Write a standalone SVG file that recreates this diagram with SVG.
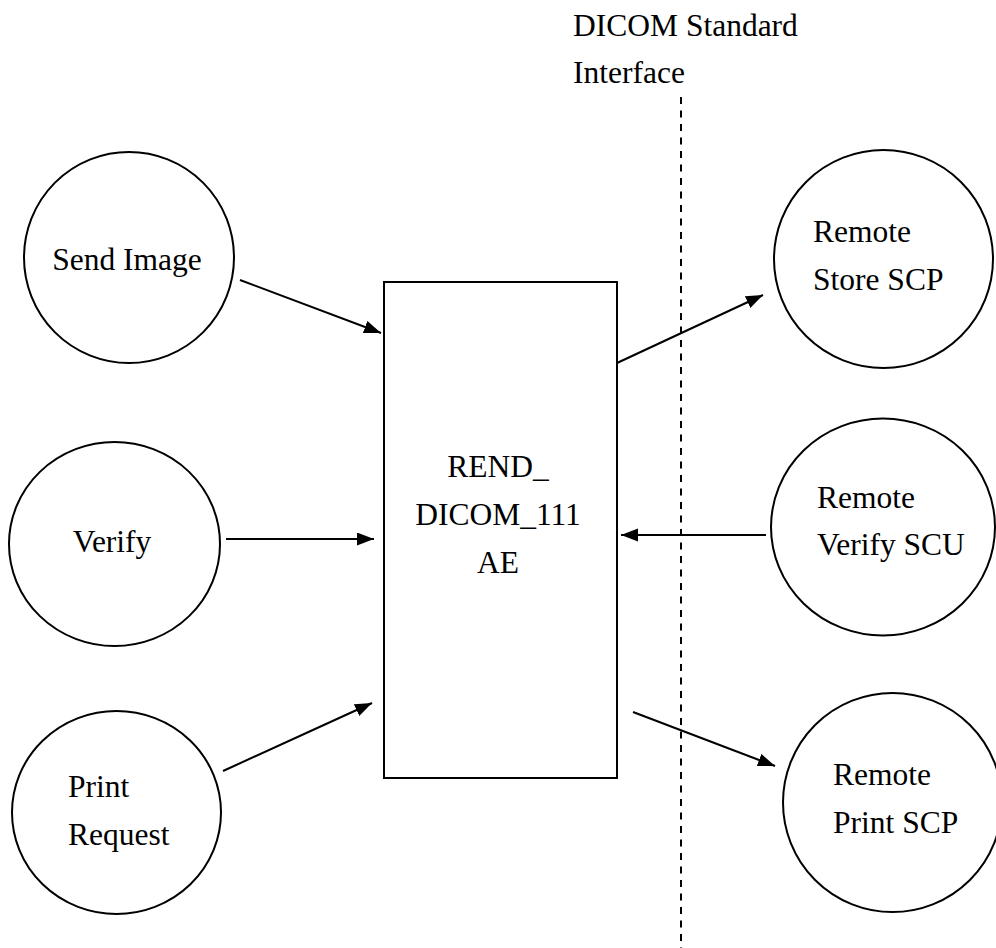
<svg xmlns="http://www.w3.org/2000/svg" width="996" height="948" viewBox="0 0 996 948">
  <style>
    .shape { fill: #fff; stroke: #000; stroke-width: 2; }
    .label { font-family: "Liberation Serif", "Times New Roman", serif; font-size: 31.5px; fill: #000; }
    .mid { text-anchor: middle; }
    .conn { stroke: #000; stroke-width: 2; fill: none; marker-end: url(#arrow); }
    .boundary { stroke: #000; stroke-width: 2; stroke-dasharray: 7 6.5; fill: none; }
  </style>
  <defs>
    <marker id="arrow" markerUnits="userSpaceOnUse" markerWidth="18" markerHeight="14" refX="17" refY="6.5" orient="auto">
      <path d="M0,0 L17,6.5 L0,13 Z" fill="#000"/>
    </marker>
  </defs>

  <rect width="996" height="948" fill="#fff"/>

  <!-- interface boundary -->
  <g id="interface">
    <text class="label" x="573" y="36">DICOM Standard</text>
    <text class="label" x="573" y="83">Interface</text>
    <line class="boundary" x1="681" y1="97" x2="681" y2="948"/>
  </g>

  <!-- local real-world activities -->
  <g id="send-image">
    <ellipse class="shape" cx="129" cy="257.5" rx="105" ry="105.5"/>
    <text class="label mid" x="127" y="270">Send Image</text>
  </g>
  <g id="verify">
    <ellipse class="shape" cx="114.5" cy="544" rx="105.5" ry="102"/>
    <text class="label mid" x="112" y="552">Verify</text>
  </g>
  <g id="print-request">
    <ellipse class="shape" cx="116.5" cy="812.5" rx="104.5" ry="101.5"/>
    <text class="label" x="68" y="797">Print</text>
    <text class="label" x="68" y="845">Request</text>
  </g>

  <!-- application entity -->
  <g id="ae">
    <rect class="shape" x="384" y="282" width="233" height="496"/>
    <text class="label mid" x="498" y="477">REND_</text>
    <text class="label mid" x="498" y="525">DICOM_111</text>
    <text class="label mid" x="498" y="573">AE</text>
  </g>

  <!-- remote activities -->
  <g id="remote-store">
    <ellipse class="shape" cx="883.5" cy="259" rx="109.5" ry="109"/>
    <text class="label" x="813" y="242">Remote</text>
    <text class="label" x="813" y="290">Store SCP</text>
  </g>
  <g id="remote-verify">
    <ellipse class="shape" cx="883" cy="527" rx="112" ry="108.5"/>
    <text class="label" x="817" y="508">Remote</text>
    <text class="label" x="817" y="555">Verify SCU</text>
  </g>
  <g id="remote-print">
    <ellipse class="shape" cx="892.5" cy="802.5" rx="109.5" ry="109.5"/>
    <text class="label" x="833" y="785">Remote</text>
    <text class="label" x="833" y="833">Print SCP</text>
  </g>

  <!-- connectors -->
  <g id="connectors">
    <line class="conn" x1="240" y1="280" x2="381" y2="333"/>
    <line class="conn" x1="226" y1="539" x2="374" y2="539"/>
    <line class="conn" x1="223" y1="771" x2="372" y2="703"/>
    <line class="conn" x1="617" y1="363" x2="763" y2="295"/>
    <line class="conn" x1="766" y1="535" x2="621" y2="535"/>
    <line class="conn" x1="633" y1="712" x2="775" y2="766"/>
  </g>
</svg>
